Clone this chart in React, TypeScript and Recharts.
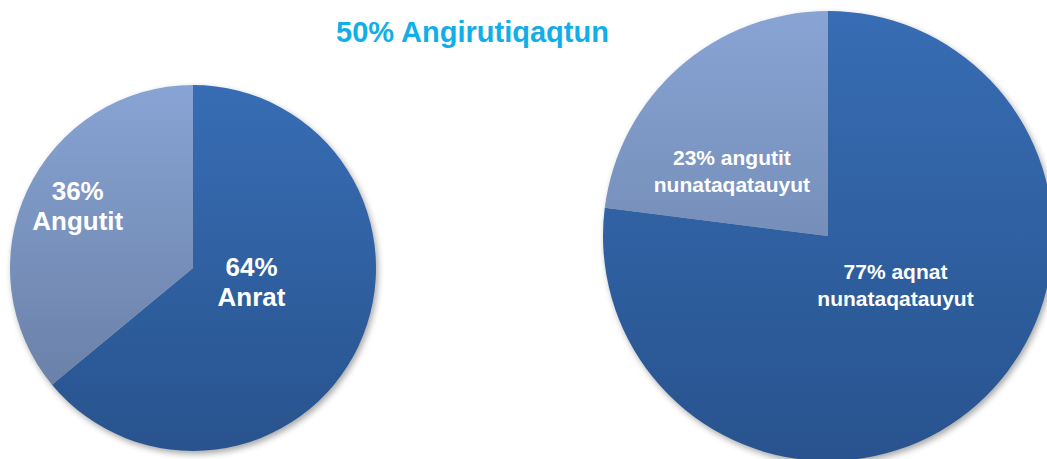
import { Cell, Pie, PieChart } from "recharts"

const leftNames = ["Anrat", "Angutit"]
const leftValues = [64, 36]
const leftLabels = [["64%", "Anrat"], ["36%", "Angutit"]]

const rightNames = ["aqnat nunataqatauyut", "angutit nunataqatauyut"]
const rightValues = [77, 23]
const rightLabels = [["77% aqnat", "nunataqatauyut"], ["23% angutit", "nunataqatauyut"]]

const title = "50% Angirutiqaqtun"

const leftData = leftNames.map((name, i) => ({ name, value: leftValues[i] }))
const rightData = rightNames.map((name, i) => ({ name, value: rightValues[i] }))

// label anchor as a fraction of the radius, relative to the pie centre
const leftLabelPos = [[0.32, 0.077], [-0.63, -0.34]]
const rightLabelPos = [[0.3, 0.216], [-0.427, -0.291]]

const LEFT = { cx: 193, cy: 268, r: 183 }
const RIGHT = { cx: 828, cy: 236, r: 225 }

function makeLabel(lines: string[][], pos: number[][], fontSize: number, lineGap: number) {
    return (props: any) => {
        const { cx, cy, outerRadius, index } = props
        const x = cx + pos[index][0] * outerRadius
        const y = cy + pos[index][1] * outerRadius
        const rows = lines[index]
        const start = y - ((rows.length - 1) * lineGap) / 2
        return (
            <text
                key={`lbl-${index}`}
                x={x}
                y={start}
                fill="#ffffff"
                fontSize={fontSize}
                fontWeight="bold"
                fontFamily="'Liberation Sans', Arial, sans-serif"
                textAnchor="middle"
                dominantBaseline="central"
            >
                {rows.map((row, i) => (
                    <tspan key={i} x={x} y={start + i * lineGap}>
                        {row}
                    </tspan>
                ))}
            </text>
        )
    }
}

function Gradient({ id, top, bottom, from, to }: { id: string, top: number, bottom: number, from: string, to: string }) {
    return (
        <linearGradient id={id} gradientUnits="userSpaceOnUse" x1="0" y1={top} x2="0" y2={bottom}>
            <stop offset="0%" stopColor={from} />
            <stop offset="100%" stopColor={to} />
        </linearGradient>
    )
}

export default function App() {
    return (
        <div style={{ position: "absolute", left: 0, top: 0, width: 1047, height: 459, background: "#fff", overflow: "hidden" }}>
            <style>{`.recharts-pie { filter: drop-shadow(2px 3px 3px rgba(0,0,0,0.35)); }`}</style>
            <div
                style={{
                    position: "absolute",
                    left: 0,
                    width: 945,
                    top: 14,
                    textAlign: "center",
                    fontFamily: "'Liberation Sans', Arial, sans-serif",
                    fontWeight: "bold",
                    fontSize: 29,
                    lineHeight: "36px",
                    color: "#11aee8",
                    zIndex: 2,
                }}
            >
                {title}
            </div>
            <PieChart width={1047} height={459} margin={{ top: 0, right: 0, bottom: 0, left: 0 }}>
                <defs>
                    <Gradient id="ldark" top={LEFT.cy - LEFT.r} bottom={LEFT.cy + LEFT.r} from="#376db4" to="#28538e" />
                    <Gradient id="llight" top={LEFT.cy - LEFT.r} bottom={LEFT.cy + LEFT.r} from="#88a4d4" to="#64799f" />
                    <Gradient id="rdark" top={RIGHT.cy - RIGHT.r} bottom={RIGHT.cy + RIGHT.r} from="#376db4" to="#28538e" />
                    <Gradient id="rlight" top={RIGHT.cy - RIGHT.r} bottom={RIGHT.cy + RIGHT.r} from="#88a4d4" to="#64799f" />
                </defs>
                <Pie
                    data={leftData}
                    dataKey="value"
                    nameKey="name"
                    cx={LEFT.cx}
                    cy={LEFT.cy}
                    outerRadius={LEFT.r}
                    startAngle={90}
                    endAngle={-270}
                    stroke="none"
                    labelLine={false}
                    label={makeLabel(leftLabels, leftLabelPos, 26, 30)}
                    isAnimationActive={false}
                >
                    <Cell fill="url(#ldark)" />
                    <Cell fill="url(#llight)" />
                </Pie>
                <Pie
                    data={rightData}
                    dataKey="value"
                    nameKey="name"
                    cx={RIGHT.cx}
                    cy={RIGHT.cy}
                    outerRadius={RIGHT.r}
                    startAngle={90}
                    endAngle={-270}
                    stroke="none"
                    labelLine={false}
                    label={makeLabel(rightLabels, rightLabelPos, 21, 27)}
                    isAnimationActive={false}
                >
                    <Cell fill="url(#rdark)" />
                    <Cell fill="url(#rlight)" />
                </Pie>
            </PieChart>
        </div>
    )
}
